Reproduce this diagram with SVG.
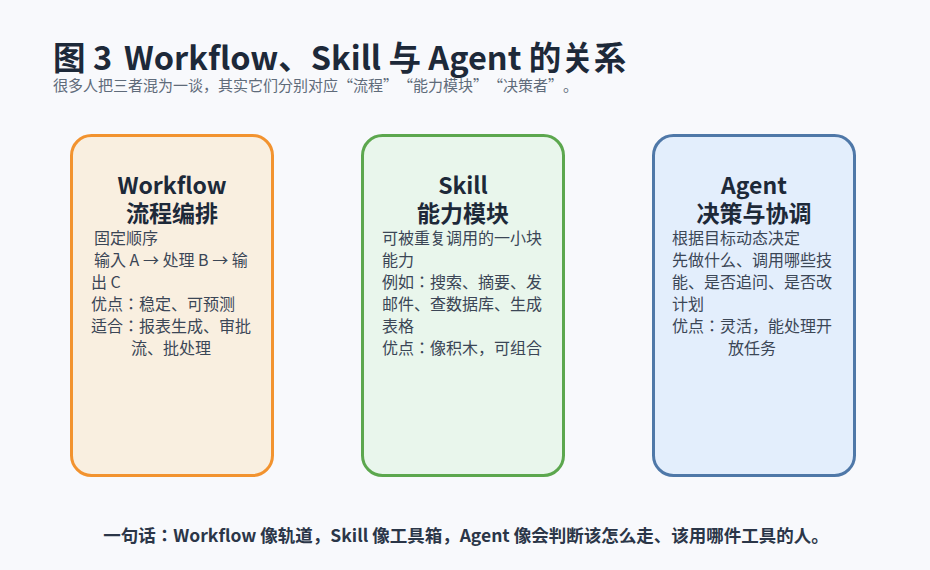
<svg xmlns="http://www.w3.org/2000/svg" width="930" height="570" viewBox="0 0 930 570">
<style>
text{font-family:"Noto Sans CJK JP","Noto Sans CJK SC",sans-serif;}
.title{font-size:32.5px;font-weight:700;fill:#1d2939;}
.sub{font-size:15px;fill:#5f6b7a;font-feature-settings:"fwid" 1;}
.nt{font-size:23px;font-weight:700;fill:#1d2939;text-anchor:middle;}
.body{font-size:16px;fill:#3b4656;}
.foot{font-size:17.5px;font-weight:700;fill:#2b3648;text-anchor:middle;}
.box{stroke-width:3;}
</style>
<rect width="930" height="570" fill="#f8f9fc"/>
<text class="title" x="53" y="70">图 3<tspan x="124">Workflow、Skill 与 Agent 的关系</tspan></text>
<text class="sub" x="53" y="91">很多人把三者混为一谈，其实它们分别对应“流程”“能力模块”“决策者”。</text>
<g id="connectors"></g>
<g id="workflow">
<rect class="box" x="71.5" y="135.5" width="201" height="340" rx="20" fill="#f9efe0" stroke="#f2932f"/>
<text class="nt" x="172" y="194">Workflow</text>
<text class="nt" x="172" y="222">流程编排</text>
<text class="body" x="94" y="244">固定顺序</text>
<text class="body" x="94" y="266">输入 A → 处理 B → 输</text>
<text class="body" x="91" y="288">出 C</text>
<text class="body" x="91" y="310">优点：稳定、可预测</text>
<text class="body" x="91" y="332">适合：报表生成、审批</text>
<text class="body" x="131" y="354">流、批处理</text>
</g>
<g id="skill">
<rect class="box" x="362.5" y="135.5" width="201" height="340" rx="20" fill="#e9f6ec" stroke="#5ca74e"/>
<text class="nt" x="463" y="194">Skill</text>
<text class="nt" x="463" y="222">能力模块</text>
<text class="body" x="382" y="244">可被重复调用的一小块</text>
<text class="body" x="382" y="266">能力</text>
<text class="body" x="382" y="288">例如：搜索、摘要、发</text>
<text class="body" x="382" y="310">邮件、查数据库、生成</text>
<text class="body" x="382" y="332">表格</text>
<text class="body" x="382" y="354">优点：像积木，可组合</text>
</g>
<g id="agent">
<rect class="box" x="653.5" y="135.5" width="201" height="340" rx="20" fill="#e3eefc" stroke="#4f78a8"/>
<text class="nt" x="754" y="194">Agent</text>
<text class="nt" x="754" y="222">决策与协调</text>
<text class="body" x="672" y="244">根据目标动态决定</text>
<text class="body" x="672" y="266">先做什么、调用哪些技</text>
<text class="body" x="672" y="288">能、是否追问、是否改</text>
<text class="body" x="672" y="310">计划</text>
<text class="body" x="672" y="332">优点：灵活，能处理开</text>
<text class="body" x="728" y="354">放任务</text>
</g>
<text class="foot" x="466" y="542">一句话：Workflow 像轨道，Skill 像工具箱，Agent 像会判断该怎么走、该用哪件工具的人。</text>
</svg>
